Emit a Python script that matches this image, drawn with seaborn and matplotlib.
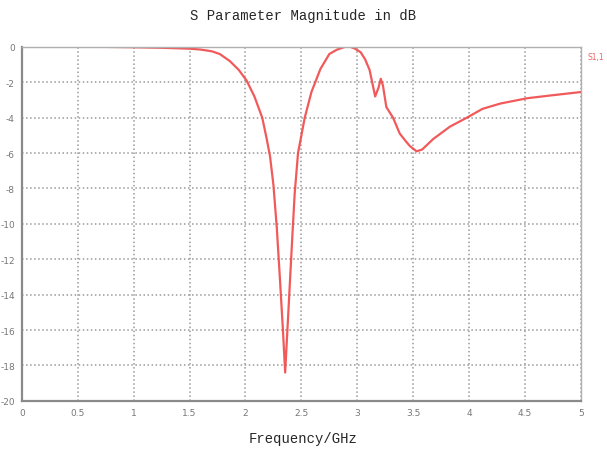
import numpy as np
import pandas as pd
import matplotlib.pyplot as plt
import seaborn as sns

# S11 magnitude
freq_ghz = [0.0, 0.25, 0.5, 0.75, 1.0, 1.25, 1.5, 1.6, 1.7, 1.77, 1.86, 1.94,
            2.01, 2.08, 2.15, 2.19, 2.22, 2.25, 2.28, 2.31, 2.335, 2.355, 2.375,
            2.40, 2.42, 2.44, 2.47, 2.50, 2.53, 2.59, 2.67, 2.75, 2.82, 2.89,
            2.94, 2.98, 3.03, 3.07, 3.11, 3.16, 3.19, 3.21, 3.23, 3.26, 3.32,
            3.38, 3.43, 3.47, 3.53, 3.58, 3.68, 3.83, 3.98, 4.12, 4.28, 4.40,
            4.52, 4.72, 4.86, 5.0]
s11_db = [0.0, 0.0, 0.0, 0.0, -0.02, -0.05, -0.1, -0.15, -0.25, -0.4, -0.8, -1.3,
          -1.9, -2.8, -4.0, -5.2, -6.2, -7.8, -10.2, -13.3, -16.0, -18.4, -16.0,
          -13.0, -10.6, -8.3, -6.0, -5.0, -4.0, -2.55, -1.25, -0.4, -0.15, 0.0,
          0.0, -0.1, -0.3, -0.7, -1.3, -2.8, -2.3, -1.8, -2.2, -3.4, -4.0,
          -4.9, -5.3, -5.6, -5.9, -5.8, -5.2, -4.5, -4.0, -3.5, -3.2, -3.05,
          -2.9, -2.75, -2.65, -2.55]

df = pd.DataFrame({'freq': freq_ghz, 's11': s11_db})

sns.set_style('white')
fig = plt.figure(figsize=(6.07, 4.52), dpi=100)
ax = fig.add_axes([0.036, 0.111, 0.921, 0.783])

sns.lineplot(data=df, x='freq', y='s11', color='#f04848', linewidth=1.6, alpha=0.9, ax=ax)

ax.set_xlim(0, 5)
ax.set_ylim(-20, 0)
ax.set_xticks(np.arange(0, 5.01, 0.5))
ax.set_xticklabels(['0', '0.5', '1', '1.5', '2', '2.5', '3', '3.5', '4', '4.5', '5'])
ax.set_yticks(np.arange(-20, 0.01, 2))
ax.set_yticklabels([str(v) for v in range(-20, 1, 2)])
ax.tick_params(labelsize=6.5, labelcolor='#777777', length=2, color='#888888',
               direction='inout', pad=4)
ax.grid(True, linestyle=':', color='#9a9a9a', linewidth=1.1)

for side in ['left', 'bottom']:
    ax.spines[side].set_color('#8a8a8a')
    ax.spines[side].set_linewidth(1.6)
for side in ['right', 'top']:
    ax.spines[side].set_color('#b0b0b0')
    ax.spines[side].set_linewidth(1.0)

ax.set_xlabel('')
ax.set_ylabel('')
fig.text(0.5, 0.965, 'S Parameter Magnitude in dB', ha='center', va='center',
         fontsize=10, family='Liberation Mono')
fig.text(0.5, 0.028, 'Frequency/GHz', ha='center', va='center',
         fontsize=10, family='Liberation Mono')
fig.text(0.968, 0.872, 'S1,1', ha='left', va='center', fontsize=5.5, color='#f06060')

fig.savefig('out.png', dpi=100)
